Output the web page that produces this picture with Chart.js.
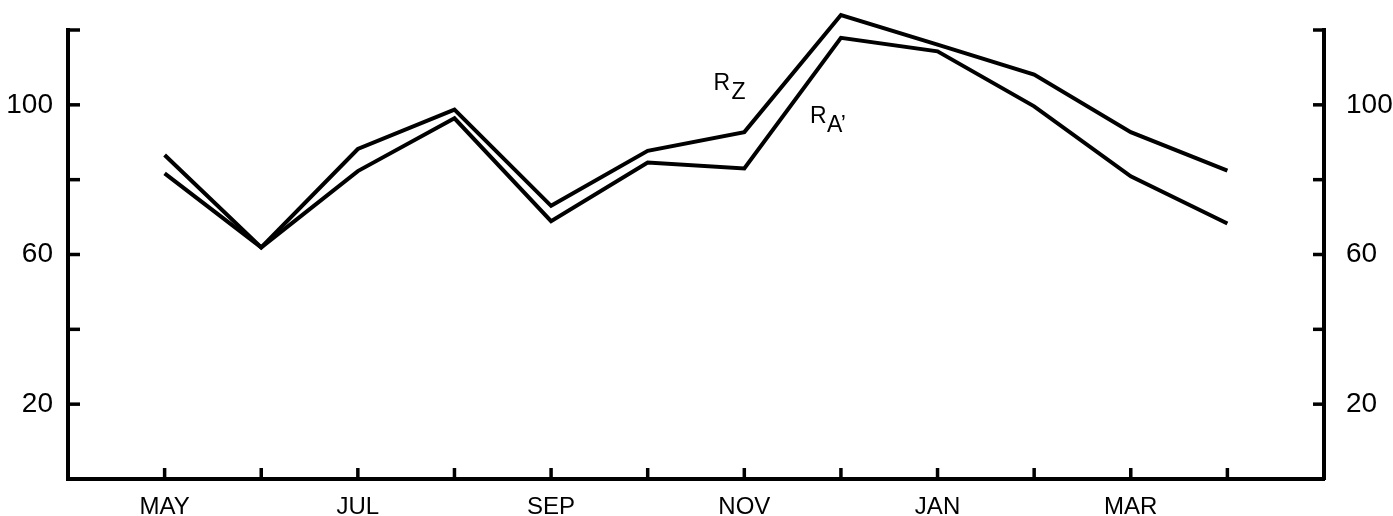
<!DOCTYPE html>
<html>
<head>
<meta charset="utf-8">
<script src="https://cdn.jsdelivr.net/npm/chart.js@4/dist/chart.umd.min.js"></script>
<style>
  html, body { margin: 0; padding: 0; background: #ffffff; }
  #wrap { width: 1393px; height: 516px; }
</style>
</head>
<body>
<div id="wrap"><canvas id="c" width="1393" height="516"></canvas></div>
<script>
// ---- data ----
const months = ['MAY','JUN','JUL','AUG','SEP','OCT','NOV','DEC','JAN','FEB','MAR','APR'];
const monthLabels = ['MAY','','JUL','','SEP','','NOV','','JAN','','MAR',''];
const rZ = [86.6, 61.9, 88.2, 98.7, 73.0, 87.7, 92.7, 124.0, 116.1, 108.1, 92.7, 82.4];
const rA = [81.7, 61.9, 82.3, 96.4, 68.9, 84.6, 83.0, 117.9, 114.3, 99.6, 80.9, 68.3];
const yTickLabels = [100, 60, 20];

const FONT = '"Liberation Sans", Arial, sans-serif';

function pts(arr) { return arr.map((v, i) => ({ x: i, y: v })); }

const innerTicks = {
  id: 'innerTicks',
  afterDraw(chart) {
    const ctx = chart.ctx;
    const a = chart.chartArea;
    const xs = chart.scales.x, ys = chart.scales.y;
    ctx.save();
    ctx.strokeStyle = '#000';
    ctx.lineWidth = 3.5;
    ctx.lineCap = 'butt';
    ys.ticks.forEach(t => {
      if (t.value <= ys.min) return;
      const py = ys.getPixelForValue(t.value);
      ctx.beginPath(); ctx.moveTo(a.left, py); ctx.lineTo(a.left + 12, py); ctx.stroke();
      ctx.beginPath(); ctx.moveTo(a.right, py); ctx.lineTo(a.right - 11, py); ctx.stroke();
    });
    xs.ticks.forEach(t => {
      if (t.value < 0 || t.value >= months.length) return;
      const px = xs.getPixelForValue(t.value);
      ctx.beginPath(); ctx.moveTo(px, a.bottom); ctx.lineTo(px, a.bottom - 11); ctx.stroke();
    });
    // series labels
    ctx.fillStyle = '#000';
    ctx.font = '23px ' + FONT;
    ctx.textBaseline = 'alphabetic';
    ctx.textAlign = 'left';
    let x = xs.getPixelForValue(5.68), y = ys.getPixelForValue(104.0);
    ctx.fillText('R', x, y);
    ctx.fillText('Z', x + 18, y + 9);
    x = xs.getPixelForValue(6.68); y = ys.getPixelForValue(95.2);
    ctx.fillText('R', x, y);
    ctx.fillText('A\u2019', x + 17, y + 9);
    ctx.restore();
  }
};

const lineStyle = {
  borderColor: '#000',
  borderWidth: 4,
  pointRadius: 0,
  fill: false,
  tension: 0,
  clip: false,
  borderJoinStyle: 'miter'
};

function fixY(w) {
  return function (s) { s.width = w; s.paddingTop = 0; s.paddingBottom = 0; };
}

new Chart(document.getElementById('c'), {
  type: 'line',
  data: {
    datasets: [
      Object.assign({ label: 'R_Z', data: pts(rZ) }, lineStyle),
      Object.assign({ label: "R_A'", data: pts(rA) }, lineStyle)
    ]
  },
  options: {
    responsive: false,
    animation: false,
    devicePixelRatio: 1,
    layout: { padding: { top: 30, left: 0, right: 0, bottom: 0 } },
    plugins: { legend: { display: false }, tooltip: { enabled: false } },
    scales: {
      x: {
        type: 'linear',
        position: 'bottom',
        min: -1, max: 12,
        afterFit(s) { s.height = 37; s.paddingLeft = 0; s.paddingRight = 0; },
        ticks: {
          stepSize: 1,
          autoSkip: false,
          maxRotation: 0,
          color: '#000',
          padding: 14,
          font: { family: FONT, size: 24 },
          callback: v => (v >= 0 && v < monthLabels.length) ? monthLabels[v] : ''
        },
        grid: { display: false, drawTicks: false },
        border: { display: true, color: '#000', width: 4 }
      },
      y: {
        position: 'left',
        min: 0, max: 120,
        afterFit: fixY(68),
        ticks: {
          stepSize: 20,
          color: '#000',
          padding: 15,
          font: { family: FONT, size: 28 },
          callback: v => yTickLabels.includes(v) ? String(v) : ''
        },
        grid: { display: false, drawTicks: false },
        border: { display: true, color: '#000', width: 4 }
      },
      y2: {
        position: 'right',
        min: 0, max: 120,
        afterFit: fixY(69),
        ticks: {
          stepSize: 20,
          color: '#000',
          padding: 22,
          font: { family: FONT, size: 28 },
          callback: v => yTickLabels.includes(v) ? String(v) : ''
        },
        grid: { display: false, drawTicks: false },
        border: { display: true, color: '#000', width: 4 }
      }
    }
  },
  plugins: [innerTicks]
});
</script>
</body>
</html>
